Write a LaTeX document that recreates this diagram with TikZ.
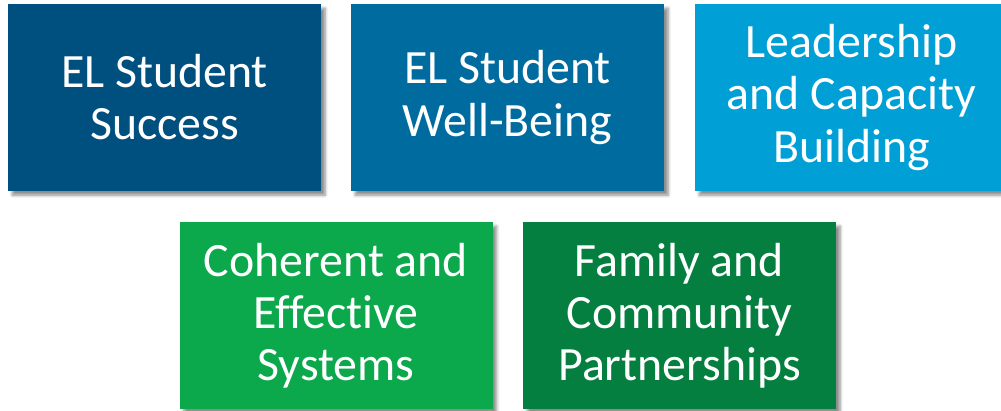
\documentclass[tikz,border=0pt]{standalone}
\usepackage{fontspec}
\setmainfont{Carlito}[RawFeature={-liga}]
\usetikzlibrary{shadows.blur}

\definecolor{successblue}{RGB}{0,80,127}
\definecolor{wellblue}{RGB}{0,107,159}
\definecolor{leadblue}{RGB}{0,159,214}
\definecolor{systemsgreen}{RGB}{12,168,76}
\definecolor{familygreen}{RGB}{5,127,64}

\tikzset{
  tile/.style={minimum width=313*0.025cm, minimum height=187*0.025cm,
    inner sep=0pt, text=white, align=center,
    font=\fontsize{34}{37}\selectfont,
    blur shadow={shadow xshift=3pt, shadow yshift=-3pt, shadow blur steps=6,
      shadow blur radius=2pt, shadow opacity=45}}
}

\begin{document}
\begin{tikzpicture}[x=0.025cm, y=-0.025cm]
            \useasboundingbox (0,0) rectangle (1001,410);
            \begin{scope}
              \node[tile, fill=successblue] (success) at (164.5,97.5) {EL Student\\Success};
              \node[tile, fill=wellblue] (wellbeing) at (507.5,97.5) {EL Student\\Well-Being};
              \node[tile, fill=leadblue] (leadership) at (851.5,97.5) {Leadership\\and Capacity\\Building};
            \end{scope}
            \begin{scope}
              \node[tile, fill=systemsgreen] (systems) at (336,315.5) {Coherent and\\Effective\\Systems};
              \node[tile, fill=familygreen] (family) at (679.5,315.5) {Family and\\Community\\Partnerships};
            \end{scope}
\end{tikzpicture}
\end{document}
